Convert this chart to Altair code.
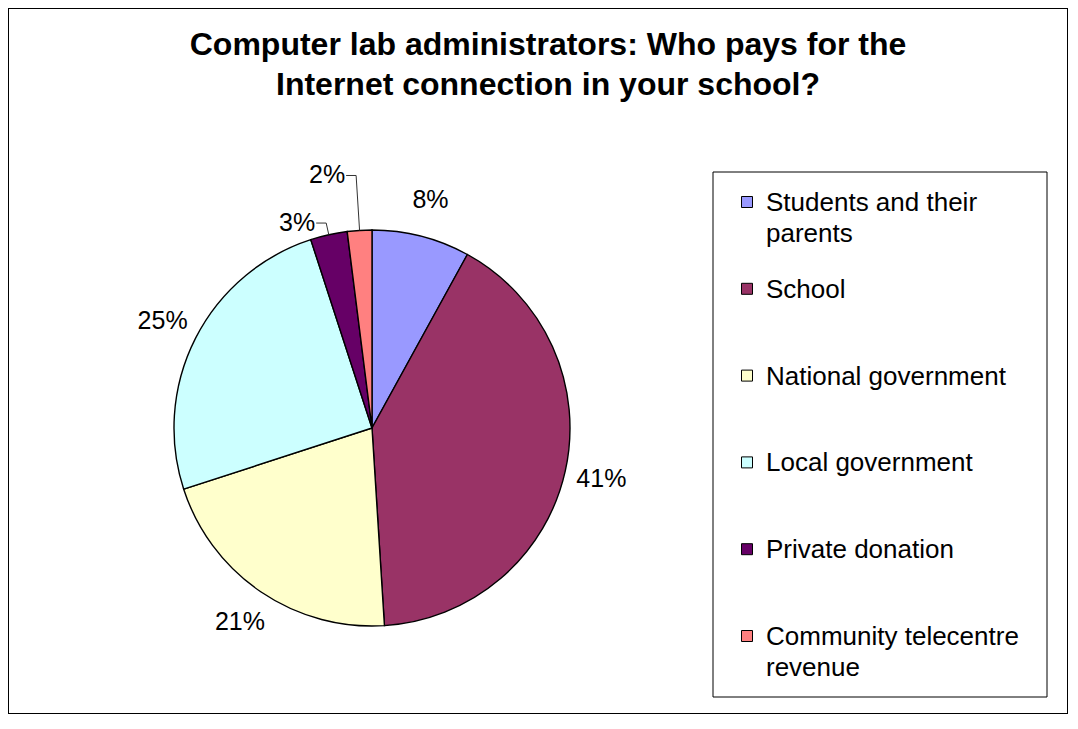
import altair as alt
import pandas as pd

categories = ["Students and their parents", "School", "National government",
              "Local government", "Private donation", "Community telecentre revenue"]
legend_text = ["Students and their\nparents", "School", "National government",
               "Local government", "Private donation", "Community telecentre\nrevenue"]
values = [8, 41, 21, 25, 3, 2]
pct_labels = ["8%", "41%", "21%", "25%", "3%", "2%"]
colors = ["#9999FF", "#993366", "#FFFFCC", "#CCFFFF", "#660066", "#FF8080"]
title_text = "Computer lab administrators: Who pays for the\nInternet connection in your school?"

df = pd.DataFrame({
    "cat": categories,
    "legend": legend_text,
    "value": values,
    "label": pct_labels,
    "idx": list(range(len(categories))),
})

FONT = "Liberation Sans"
W, H = 1060, 706
CX, CY = 364, 420
R = 198
LABEL_R = 235

color_scale = alt.Scale(domain=categories, range=colors)
base = alt.Chart(df)

theta = alt.Theta("value:Q", stack=True)
order = alt.Order("idx:Q", sort="ascending")

pie = base.mark_arc(outerRadius=R, stroke="black", strokeWidth=1.4).encode(
    theta=theta,
    order=order,
    color=alt.Color("cat:N", scale=color_scale, legend=None),
    x=alt.value(CX), y=alt.value(CY),
)

main_labels = base.transform_calculate(
    main="datum.value >= 5 ? datum.label : ''"
).mark_text(radius=LABEL_R, fontSize=25, font=FONT, color="black").encode(
    theta=theta,
    order=order,
    text="main:N",
    x=alt.value(CX), y=alt.value(CY),
)

# leader lines for small slices
small = base.transform_joinaggregate(total="sum(value)").transform_window(
    cum="sum(value)", sort=[alt.SortField("idx", order="ascending")], frame=[None, 0]
).transform_calculate(
    mid="(datum.cum - datum.value / 2) / datum.total * 2 * PI"
).transform_filter("datum.value < 5").transform_calculate(
    rk=f"{R} + (datum.value < 2.5 ? 55 : 12)"
).transform_calculate(
    x1=f"{CX} + {R} * sin(datum.mid)",
    y1=f"{CY} - {R} * cos(datum.mid)",
    x2=f"{CX} + datum.rk * sin(datum.mid)",
    y2=f"{CY} - datum.rk * cos(datum.mid)",
).transform_calculate(
    x3="datum.x2 - 10",
    xt="datum.x2 - 11",
)

leader1 = small.mark_rule(color="#333333", strokeWidth=1).encode(
    x=alt.X("x1:Q", scale=None), x2="x2:Q",
    y=alt.Y("y1:Q", scale=None), y2="y2:Q",
)
leader2 = small.mark_rule(color="#333333", strokeWidth=1).encode(
    x=alt.X("x2:Q", scale=None), x2="x3:Q",
    y=alt.Y("y2:Q", scale=None), y2="y2:Q",
)
small_text = small.mark_text(fontSize=25, font=FONT, align="right",
                             baseline="middle", color="black").encode(
    x=alt.X("xt:Q", scale=None),
    y=alt.Y("y2:Q", scale=None),
    text="label:N",
)

# legend
box = alt.Chart(pd.DataFrame({"a": [0]})).mark_rect(
    fill="white", stroke="black", strokeWidth=1
).encode(x=alt.value(705), x2=alt.value(1039), y=alt.value(164), y2=alt.value(689))

leg_y = alt.Y("idx:Q", axis=None,
              scale=alt.Scale(domain=[0, 5], range=[194, 628], zero=False, nice=False))
leg_sq = base.mark_square(size=121, opacity=1, stroke="black", strokeWidth=1).encode(
    x=alt.value(739), y=leg_y,
    color=alt.Color("cat:N", scale=color_scale, legend=None),
)
leg_txt = base.mark_text(fontSize=26, font=FONT, align="left", baseline="alphabetic",
                         dy=9, lineBreak="\n", lineHeight=31, color="black").encode(
    x=alt.value(758), y=leg_y, text="legend:N",
)

title = alt.Chart(pd.DataFrame({"t": [title_text]})).mark_text(
    fontSize=32, font=FONT, fontWeight="bold", align="center",
    baseline="alphabetic", lineBreak="\n", lineHeight=40, color="black"
).encode(x=alt.value(540), y=alt.value(47), text="t:N")

chart = alt.layer(
    box, pie, main_labels, leader1, leader2, small_text, leg_sq, leg_txt, title
).resolve_scale(x="independent", y="independent").properties(
    width=W, height=H, padding=0, autosize=alt.AutoSizeParams(type="none"),
    background="white",
).configure_view(stroke="black", strokeWidth=2, fill="white")

chart.save("out.html", embed_options={"renderer": "svg", "actions": False})
